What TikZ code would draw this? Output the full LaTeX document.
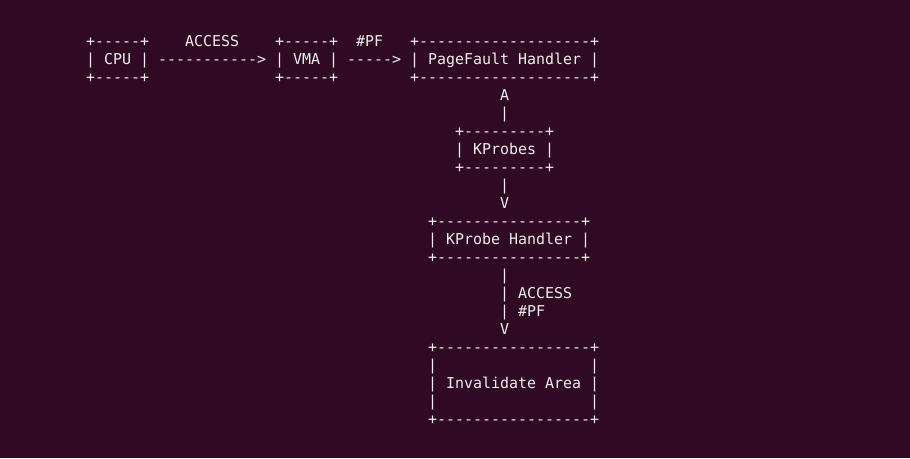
\documentclass[tikz,border=0pt]{standalone}
\usepackage{fontspec}
\setmonofont{DejaVu Sans Mono}
\definecolor{termbg}{HTML}{300A24}
\definecolor{termfg}{HTML}{EEEEEC}
\newcommand\tline[4]{\node[term] (#1) at ({86+9*#2},{-(46.5+18*#3)}) {#4};}
\begin{document}
\begin{tikzpicture}[x=1pt,y=1pt,
  term/.style={anchor=base west,inner sep=0pt,text=termfg,
    font=\ttfamily\fontsize{14.95}{18}\selectfont}]
\fill[termbg] (0,0) rectangle (910,-458);
\useasboundingbox (0,0) rectangle (910,-458);
% row 0
\tline{cpuT}{0}{0}{+-----+}
\tline{accA}{11}{0}{ACCESS}
\tline{vmaT}{21}{0}{+-----+}
\tline{pfA}{30}{0}{\#PF}
\tline{pfhT}{36}{0}{+-------------------+}
% row 1
\tline{cpu}{0}{1}{| CPU |}
\tline{arrA}{8}{1}{----------->}
\tline{vma}{21}{1}{| VMA |}
\tline{arrB}{29}{1}{----->}
\tline{pfh}{36}{1}{| PageFault Handler |}
% row 2
\tline{cpuB}{0}{2}{+-----+}
\tline{vmaB}{21}{2}{+-----+}
\tline{pfhB}{36}{2}{+-------------------+}
% link to kprobes
\tline{upA}{46}{3}{A}
\tline{upL}{46}{4}{|}
\tline{kpT}{41}{5}{+---------+}
\tline{kp}{41}{6}{| KProbes |}
\tline{kpB}{41}{7}{+---------+}
\tline{dnL}{46}{8}{|}
\tline{dnV}{46}{9}{V}
% kprobe handler
\tline{khT}{38}{10}{+----------------+}
\tline{kh}{38}{11}{| KProbe Handler |}
\tline{khB}{38}{12}{+----------------+}
\tline{acL1}{46}{13}{|}
\tline{acL2}{46}{14}{| ACCESS}
\tline{acL3}{46}{15}{| \#PF}
\tline{acV}{46}{16}{V}
% invalidate area
\tline{iaT}{38}{17}{+-----------------+}
\tline{iaL1}{38}{18}{|}
\tline{iaR1}{56}{18}{|}
\tline{ia}{38}{19}{| Invalidate Area |}
\tline{iaL2}{38}{20}{|}
\tline{iaR2}{56}{20}{|}
\tline{iaB}{38}{21}{+-----------------+}
\end{tikzpicture}
\end{document}
